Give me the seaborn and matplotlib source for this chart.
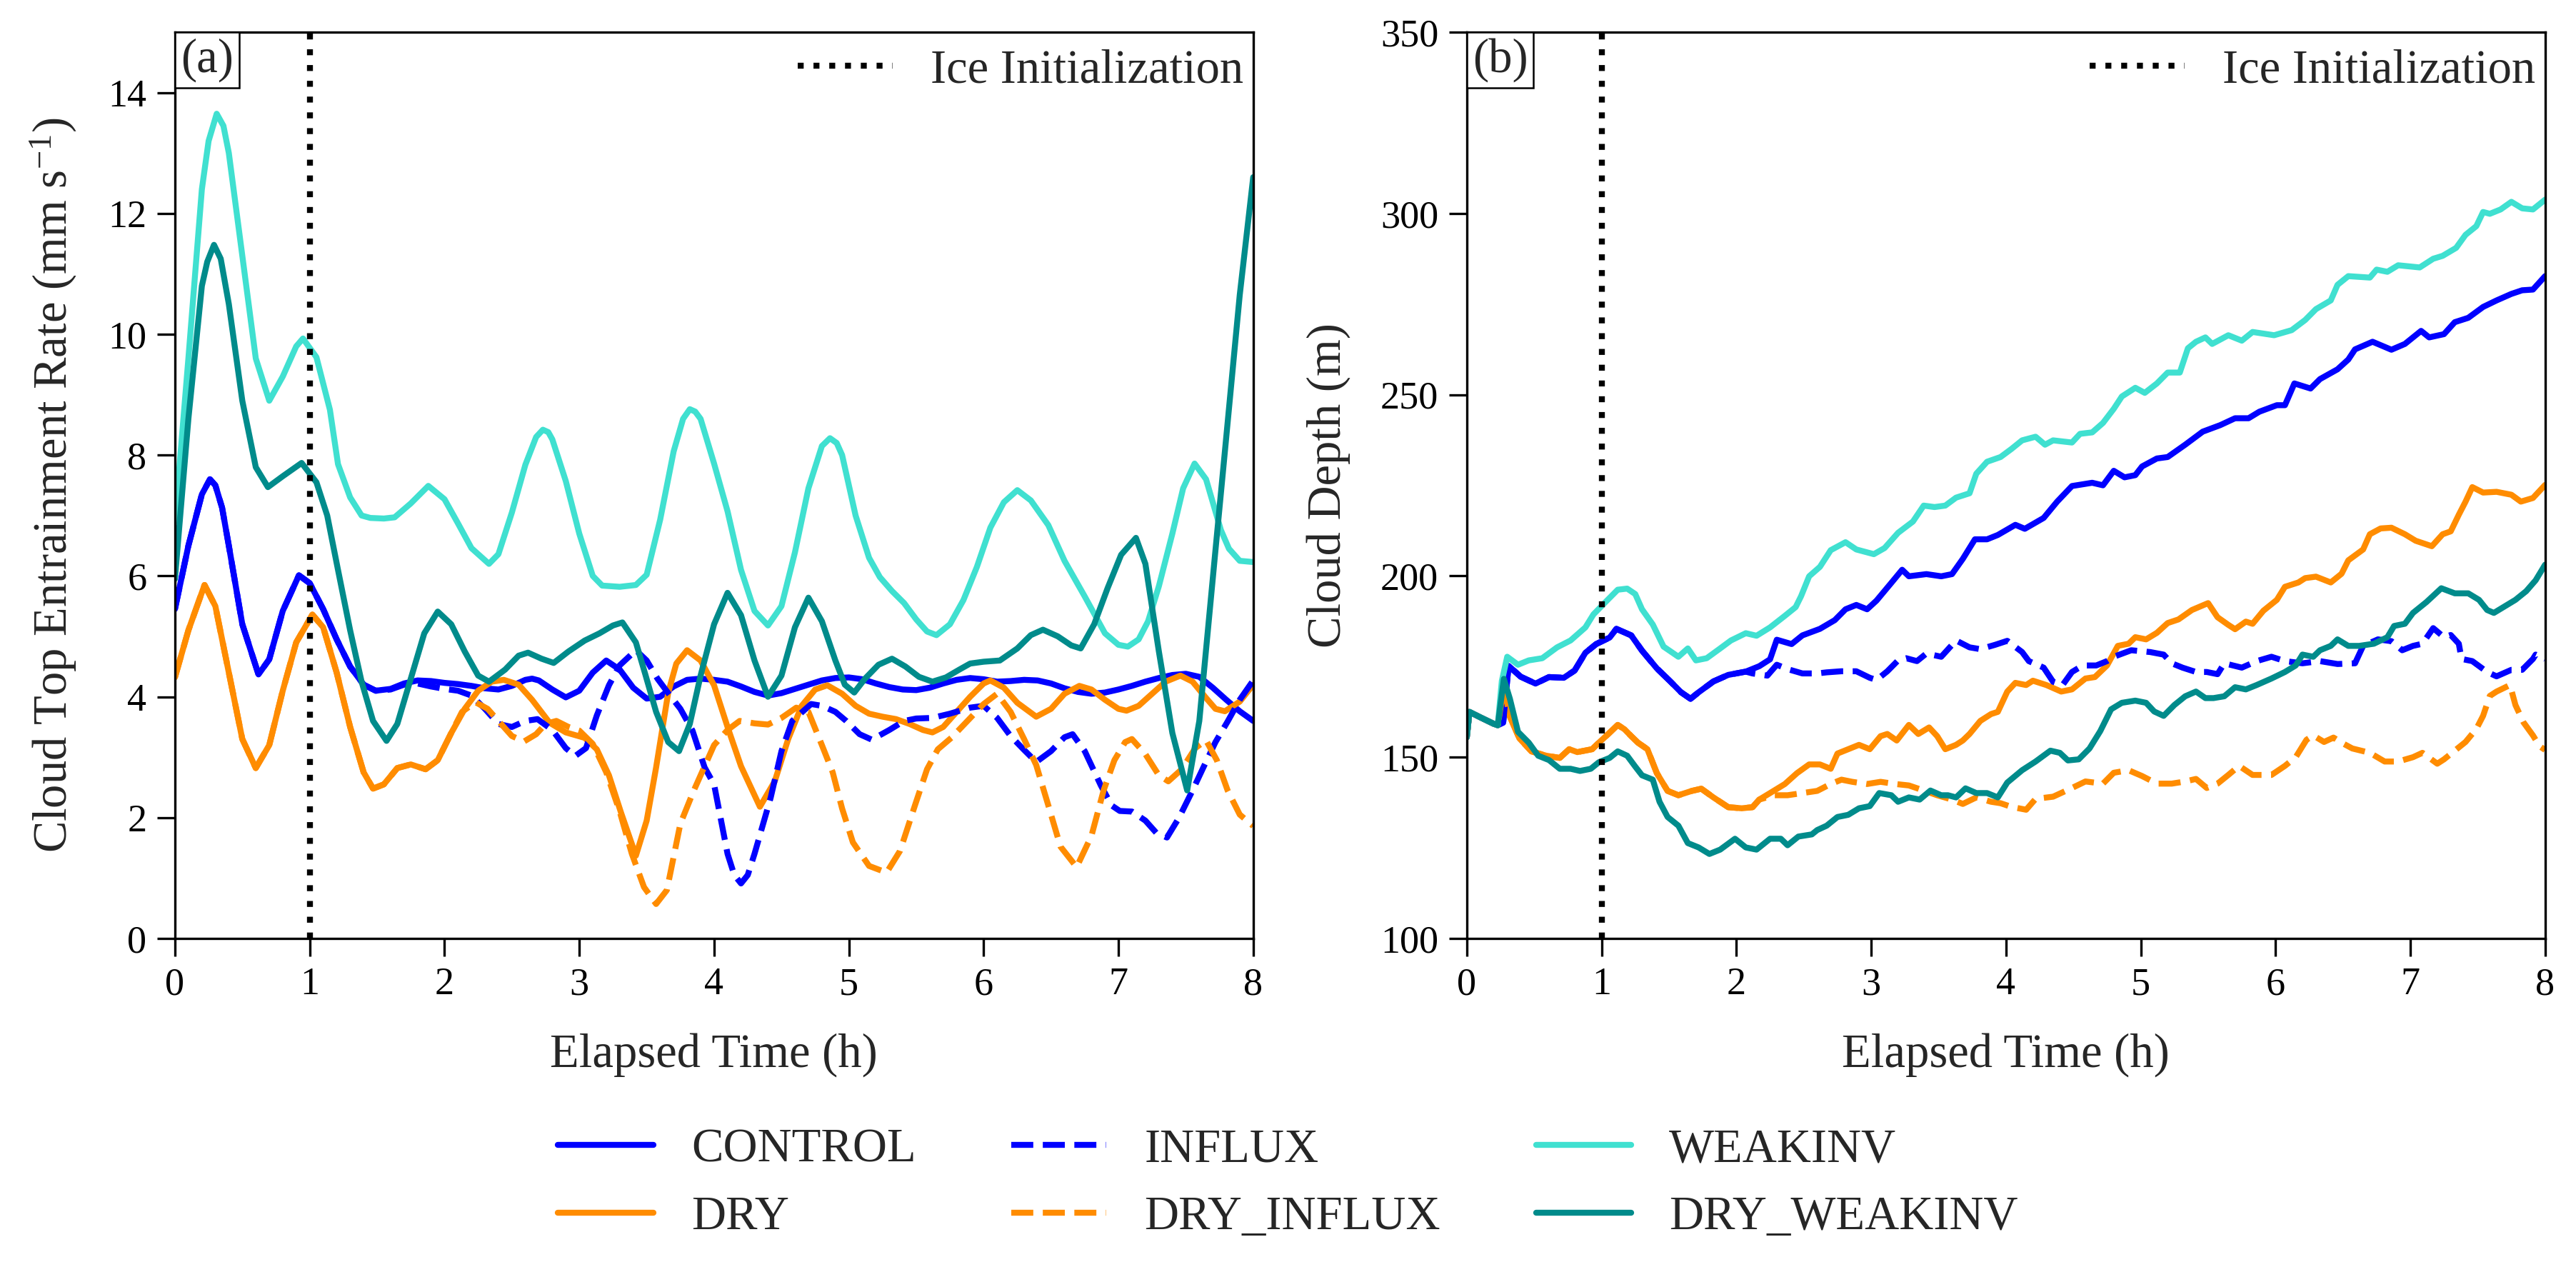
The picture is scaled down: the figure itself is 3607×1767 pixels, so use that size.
import matplotlib
matplotlib.use("Agg")
import matplotlib.pyplot as plt
from matplotlib.lines import Line2D
from matplotlib.offsetbox import AnchoredText
import seaborn as sns
import pandas as pd

# ---------------- data: panel (a) entrainment rate (mm s-1) ----------------
CONTROL_A = [(0, 5.45), (0.1, 6.5), (0.2, 7.35), (0.26, 7.6), (0.3, 7.5), (0.35, 7.13), (0.4, 6.5), (0.5, 5.2),
             (0.62, 4.37), (0.7, 4.62), (0.8, 5.42), (0.92, 6.01), (1.0, 5.88), (1.1, 5.45), (1.2, 4.95), (1.3, 4.5),
             (1.4, 4.2), (1.49, 4.1), (1.6, 4.13), (1.7, 4.22), (1.8, 4.27), (1.9, 4.26), (2.0, 4.23), (2.1, 4.21),
             (2.2, 4.18), (2.3, 4.14), (2.4, 4.12), (2.5, 4.18), (2.6, 4.28), (2.65, 4.3), (2.7, 4.27), (2.8, 4.12),
             (2.9, 3.99), (3.0, 4.1), (3.1, 4.4), (3.2, 4.6), (3.3, 4.45), (3.4, 4.15), (3.5, 3.97), (3.6, 4.0),
             (3.7, 4.17), (3.8, 4.28), (3.9, 4.3), (4.0, 4.28), (4.1, 4.25), (4.2, 4.17), (4.3, 4.08), (4.4, 4.02),
             (4.5, 4.06), (4.6, 4.13), (4.7, 4.2), (4.8, 4.27), (4.9, 4.31), (5.0, 4.32), (5.1, 4.29), (5.2, 4.22),
             (5.3, 4.16), (5.4, 4.12), (5.5, 4.11), (5.6, 4.15), (5.7, 4.22), (5.8, 4.28), (5.9, 4.31), (6.0, 4.29),
             (6.1, 4.25), (6.2, 4.26), (6.3, 4.28), (6.4, 4.27), (6.5, 4.22), (6.6, 4.14), (6.7, 4.08), (6.8, 4.05),
             (6.9, 4.07), (7.0, 4.12), (7.1, 4.18), (7.2, 4.25), (7.3, 4.31), (7.4, 4.36), (7.5, 4.38), (7.6, 4.33),
             (7.7, 4.15), (7.8, 3.95), (7.9, 3.76), (8.0, 3.6)]

INFLUX_A = [(0, 5.45), (0.1, 6.5), (0.2, 7.35), (0.26, 7.6), (0.3, 7.5), (0.35, 7.13), (0.4, 6.5), (0.5, 5.2),
            (0.62, 4.37), (0.7, 4.62), (0.8, 5.42), (0.92, 6.01), (1.0, 5.88), (1.1, 5.45), (1.2, 4.95), (1.3, 4.5),
            (1.4, 4.2), (1.49, 4.1), (1.6, 4.12), (1.7, 4.2), (1.8, 4.22), (1.9, 4.17), (2.0, 4.13), (2.1, 4.1),
            (2.2, 4.02), (2.3, 3.8), (2.4, 3.55), (2.5, 3.5), (2.6, 3.6), (2.69, 3.63), (2.8, 3.45), (2.9, 3.15),
            (2.97, 3.02), (3.05, 3.15), (3.13, 3.69), (3.22, 4.19), (3.3, 4.52), (3.42, 4.77), (3.5, 4.6),
            (3.58, 4.3), (3.66, 4.06), (3.75, 3.8), (3.84, 3.44), (3.93, 2.83), (4.0, 2.55), (4.1, 1.4),
            (4.15, 1.05), (4.2, 0.91), (4.25, 1.05), (4.3, 1.4), (4.42, 2.33), (4.5, 3.1), (4.58, 3.6),
            (4.72, 3.88), (4.8, 3.85), (4.9, 3.75), (4.98, 3.6), (5.08, 3.38), (5.17, 3.29), (5.3, 3.45),
            (5.41, 3.6), (5.5, 3.64), (5.62, 3.65), (5.75, 3.72), (5.9, 3.82), (6.0, 3.85), (6.1, 3.65),
            (6.2, 3.35), (6.3, 3.12), (6.39, 2.92), (6.5, 3.1), (6.6, 3.33), (6.66, 3.38), (6.75, 3.1),
            (6.87, 2.53), (6.95, 2.2), (7.01, 2.11), (7.1, 2.1), (7.2, 1.95), (7.28, 1.75), (7.36, 1.67),
            (7.45, 2.0), (7.55, 2.45), (7.63, 2.83), (7.72, 3.25), (7.81, 3.59), (7.9, 3.95), (8.0, 4.27)]

DRY_A = [(0, 4.32), (0.1, 5.1), (0.22, 5.85), (0.3, 5.5), (0.4, 4.4), (0.5, 3.3), (0.6, 2.82), (0.7, 3.2),
         (0.8, 4.1), (0.9, 4.9), (1.02, 5.36), (1.1, 5.15), (1.2, 4.4), (1.3, 3.5), (1.4, 2.75), (1.47, 2.48),
         (1.55, 2.55), (1.65, 2.82), (1.75, 2.88), (1.86, 2.8), (1.95, 2.95), (2.05, 3.4), (2.15, 3.8), (2.25, 4.1),
         (2.35, 4.25), (2.44, 4.28), (2.55, 4.2), (2.65, 3.95), (2.78, 3.57), (2.9, 3.41), (3.04, 3.32),
         (3.13, 3.13), (3.22, 2.7), (3.31, 2.08), (3.42, 1.37), (3.5, 1.95), (3.57, 2.83), (3.66, 4.07),
         (3.72, 4.55), (3.8, 4.77), (3.9, 4.6), (4.0, 4.19), (4.1, 3.5), (4.2, 2.85), (4.34, 2.18), (4.45, 2.6),
         (4.55, 3.3), (4.65, 3.85), (4.75, 4.12), (4.84, 4.19), (4.95, 4.05), (5.05, 3.85), (5.15, 3.72),
         (5.25, 3.67), (5.35, 3.63), (5.45, 3.55), (5.55, 3.45), (5.62, 3.41), (5.7, 3.5), (5.8, 3.75), (5.9, 4.0),
         (6.0, 4.22), (6.05, 4.27), (6.15, 4.15), (6.25, 3.9), (6.39, 3.67), (6.5, 3.8), (6.6, 4.05), (6.71, 4.18),
         (6.8, 4.12), (6.9, 3.95), (7.0, 3.8), (7.06, 3.77), (7.15, 3.85), (7.25, 4.05), (7.35, 4.25), (7.46, 4.35),
         (7.55, 4.25), (7.65, 3.98), (7.72, 3.8), (7.79, 3.76), (7.9, 3.92), (8.0, 4.2)]

DRY_INFLUX_A = [(0, 4.32), (0.1, 5.1), (0.22, 5.85), (0.3, 5.5), (0.4, 4.4), (0.5, 3.3), (0.6, 2.82), (0.7, 3.2),
                (0.8, 4.1), (0.9, 4.9), (1.02, 5.36), (1.1, 5.15), (1.2, 4.4), (1.3, 3.5), (1.4, 2.75), (1.47, 2.48),
                (1.55, 2.55), (1.65, 2.82), (1.75, 2.88), (1.86, 2.8), (1.95, 2.95), (2.05, 3.4), (2.13, 3.75),
                (2.23, 3.91), (2.32, 3.8), (2.42, 3.55), (2.5, 3.35), (2.59, 3.26), (2.68, 3.38), (2.75, 3.55),
                (2.83, 3.6), (2.92, 3.5), (3.0, 3.44), (3.1, 3.22), (3.2, 2.75), (3.3, 2.1), (3.39, 1.4),
                (3.48, 0.85), (3.57, 0.57), (3.65, 0.8), (3.75, 1.9), (3.85, 2.45), (3.93, 2.85), (4.0, 3.2),
                (4.1, 3.45), (4.19, 3.6), (4.3, 3.56), (4.4, 3.54), (4.5, 3.65), (4.61, 3.82), (4.7, 3.75),
                (4.8, 3.2), (4.88, 2.75), (4.95, 2.15), (5.03, 1.59), (5.15, 1.2), (5.28, 1.09), (5.38, 1.45),
                (5.49, 2.2), (5.58, 2.8), (5.66, 3.13), (5.76, 3.32), (5.88, 3.6), (6.0, 3.88), (6.1, 4.05),
                (6.2, 3.75), (6.3, 3.3), (6.39, 2.87), (6.48, 2.2), (6.57, 1.52), (6.69, 1.18), (6.8, 1.7),
                (6.89, 2.45), (6.97, 2.95), (7.05, 3.25), (7.1, 3.3), (7.2, 3.05), (7.3, 2.7), (7.37, 2.6),
                (7.47, 2.8), (7.57, 3.15), (7.65, 3.28), (7.73, 2.95), (7.81, 2.45), (7.9, 2.05), (8.0, 1.86)]

WEAKINV_A = [(0, 6.9), (0.1, 9.6), (0.2, 12.4), (0.25, 13.2), (0.31, 13.65), (0.36, 13.45), (0.4, 13.0),
             (0.5, 11.3), (0.6, 9.6), (0.7, 8.9), (0.8, 9.3), (0.9, 9.8), (0.95, 9.93), (1.05, 9.62), (1.15, 8.75),
             (1.21, 7.85), (1.3, 7.3), (1.385, 7.0), (1.45, 6.96), (1.55, 6.95), (1.63, 6.97), (1.75, 7.2),
             (1.88, 7.49), (2.0, 7.27), (2.1, 6.87), (2.2, 6.46), (2.33, 6.2), (2.4, 6.36), (2.5, 7.05), (2.6, 7.84),
             (2.68, 8.3), (2.73, 8.42), (2.77, 8.38), (2.8, 8.26), (2.9, 7.57), (3.0, 6.7), (3.1, 6.0), (3.17, 5.84),
             (3.3, 5.82), (3.42, 5.85), (3.5, 6.02), (3.6, 6.93), (3.7, 8.06), (3.77, 8.6), (3.82, 8.76),
             (3.86, 8.72), (3.9, 8.6), (4.0, 7.86), (4.1, 7.07), (4.2, 6.1), (4.3, 5.42), (4.4, 5.18), (4.5, 5.5),
             (4.6, 6.39), (4.7, 7.45), (4.8, 8.15), (4.86, 8.28), (4.91, 8.2), (4.95, 8.0), (5.05, 7.0),
             (5.15, 6.3), (5.23, 5.98), (5.32, 5.75), (5.41, 5.55), (5.5, 5.28), (5.58, 5.08), (5.65, 5.02),
             (5.75, 5.2), (5.85, 5.6), (5.95, 6.15), (6.05, 6.8), (6.15, 7.22), (6.25, 7.42), (6.35, 7.25),
             (6.48, 6.84), (6.6, 6.25), (6.75, 5.66), (6.9, 5.05), (7.0, 4.86), (7.07, 4.83), (7.15, 4.95),
             (7.22, 5.25), (7.3, 5.83), (7.4, 6.7), (7.48, 7.45), (7.565, 7.86), (7.65, 7.6), (7.76, 6.76),
             (7.82, 6.45), (7.9, 6.25), (8.0, 6.23)]

DRY_WEAKINV_A = [(0, 5.95), (0.1, 8.6), (0.2, 10.8), (0.24, 11.2), (0.29, 11.48), (0.34, 11.25), (0.4, 10.5),
                 (0.5, 8.9), (0.6, 7.8), (0.69, 7.47), (0.8, 7.65), (0.94, 7.87), (1.05, 7.55), (1.13, 7.0),
                 (1.21, 6.1), (1.3, 5.1), (1.385, 4.25), (1.47, 3.6), (1.57, 3.27), (1.65, 3.55), (1.75, 4.3),
                 (1.85, 5.05), (1.95, 5.41), (2.05, 5.2), (2.15, 4.75), (2.25, 4.35), (2.33, 4.25), (2.45, 4.45),
                 (2.55, 4.68), (2.62, 4.73), (2.72, 4.63), (2.81, 4.56), (2.92, 4.75), (3.04, 4.93), (3.15, 5.05),
                 (3.25, 5.18), (3.32, 5.23), (3.42, 4.9), (3.49, 4.37), (3.57, 3.75), (3.66, 3.25), (3.74, 3.1),
                 (3.82, 3.55), (3.9, 4.35), (4.0, 5.2), (4.1, 5.72), (4.2, 5.35), (4.3, 4.6), (4.4, 4.0),
                 (4.5, 4.35), (4.6, 5.15), (4.7, 5.64), (4.8, 5.25), (4.9, 4.6), (4.97, 4.2), (5.04, 4.07),
                 (5.12, 4.3), (5.22, 4.53), (5.32, 4.63), (5.42, 4.5), (5.52, 4.33), (5.62, 4.25), (5.72, 4.32),
                 (5.82, 4.45), (5.9, 4.55), (6.0, 4.58), (6.12, 4.6), (6.25, 4.8), (6.35, 5.02), (6.44, 5.11),
                 (6.55, 5.0), (6.65, 4.85), (6.72, 4.8), (6.82, 5.2), (6.92, 5.8), (7.02, 6.35), (7.13, 6.63),
                 (7.2, 6.2), (7.3, 4.75), (7.4, 3.4), (7.51, 2.45), (7.6, 3.6), (7.72, 6.43), (7.8, 8.3),
                 (7.9, 10.65), (8.0, 12.6)]

# ---------------- data: panel (b) cloud depth (m) ----------------
START_B = [(0, 155.5), (0.02, 162.5), (0.1, 161.0), (0.2, 159.2), (0.23, 158.8)]

CONTROL_B = START_B + [
    (0.27, 159.5), (0.31, 175.2), (0.4, 172.2), (0.51, 170.3), (0.61, 172.1), (0.72, 171.9), (0.8, 173.9),
    (0.88, 178.8), (0.96, 181.2), (1.06, 183.0), (1.11, 185.4), (1.22, 183.6), (1.3, 179.4), (1.41, 174.5),
    (1.51, 170.9), (1.59, 167.9), (1.66, 166.1), (1.72, 167.9), (1.83, 170.9), (1.94, 172.7), (2.07, 173.6),
    (2.17, 175.1), (2.25, 177.0), (2.3, 182.4), (2.41, 181.2), (2.49, 183.6), (2.62, 185.4), (2.73, 187.8),
    (2.81, 190.8), (2.89, 192.0), (2.97, 190.8), (3.04, 193.2), (3.15, 198.1), (3.23, 201.7), (3.28, 199.9),
    (3.41, 200.5), (3.52, 199.9), (3.6, 200.5), (3.68, 204.7), (3.77, 210.1), (3.86, 210.1), (3.94, 211.3),
    (4.07, 214.1), (4.14, 213.0), (4.28, 216.0), (4.38, 220.5), (4.49, 224.8), (4.64, 225.7), (4.72, 225.0),
    (4.8, 229.0), (4.88, 227.2), (4.96, 227.8), (5.01, 230.2), (5.12, 232.4), (5.2, 232.8), (5.33, 236.2),
    (5.46, 239.8), (5.59, 241.6), (5.7, 243.5), (5.8, 243.5), (5.88, 245.3), (6.01, 247.1), (6.07, 247.1),
    (6.14, 253.1), (6.26, 251.7), (6.33, 254.3), (6.46, 257.0), (6.54, 259.7), (6.59, 262.5), (6.72, 264.6),
    (6.86, 262.4), (6.96, 264.0), (7.08, 267.6), (7.14, 265.8), (7.25, 266.7), (7.33, 270.0), (7.43, 271.2),
    (7.54, 274.2), (7.64, 276.0), (7.75, 277.8), (7.83, 278.8), (7.91, 279.0), (8.0, 282.7)]

INFLUX_B = START_B + [
    (0.27, 159.5), (0.31, 175.2), (0.4, 172.2), (0.51, 170.3), (0.61, 172.1), (0.72, 171.9), (0.8, 173.9),
    (0.88, 178.8), (0.96, 181.2), (1.06, 183.0), (1.11, 185.4), (1.22, 183.6), (1.3, 179.4), (1.41, 174.5),
    (1.51, 170.9), (1.59, 167.9), (1.66, 166.1), (1.72, 167.9), (1.83, 170.9), (1.94, 172.7), (2.07, 173.6),
    (2.12, 173.1), (2.23, 172.5), (2.3, 175.5), (2.38, 174.3), (2.49, 173.1), (2.6, 173.1), (2.67, 173.4),
    (2.78, 173.7), (2.89, 173.7), (2.99, 171.9), (3.04, 171.3), (3.12, 173.7), (3.2, 176.7), (3.26, 177.3),
    (3.34, 176.5), (3.41, 178.6), (3.52, 177.7), (3.63, 182.2), (3.73, 180.3), (3.81, 179.8), (3.92, 181.0),
    (4.01, 182.1), (4.12, 179.0), (4.17, 176.5), (4.28, 174.7), (4.35, 170.8), (4.42, 169.9), (4.49, 173.5),
    (4.57, 175.3), (4.67, 175.3), (4.75, 176.5), (4.8, 177.7), (4.93, 179.5), (5.07, 179.0), (5.17, 178.3),
    (5.23, 175.9), (5.31, 174.7), (5.41, 173.5), (5.49, 173.5), (5.57, 172.9), (5.62, 175.9), (5.75, 174.7),
    (5.86, 176.5), (5.97, 177.7), (6.07, 176.5), (6.2, 175.9), (6.33, 176.5), (6.46, 175.7), (6.59, 175.9),
    (6.65, 180.7), (6.76, 182.5), (6.86, 182.0), (6.94, 179.5), (7.02, 180.7), (7.09, 181.3), (7.17, 185.6),
    (7.25, 183.1), (7.3, 183.7), (7.36, 181.3), (7.38, 177.1), (7.46, 176.5), (7.57, 173.5), (7.64, 172.3),
    (7.75, 174.1), (7.83, 174.1), (7.91, 177.1), (7.93, 178.3), (8.0, 177.1)]

WEAKINV_B = START_B + [
    (0.26, 171.0), (0.3, 177.7), (0.38, 175.5), (0.46, 176.7), (0.56, 177.3), (0.67, 180.3), (0.77, 182.2),
    (0.88, 185.8), (0.94, 189.4), (1.04, 193.2), (1.12, 196.2), (1.19, 196.5), (1.25, 195.0), (1.3, 190.8),
    (1.38, 186.6), (1.46, 180.5), (1.57, 177.7), (1.64, 180.0), (1.7, 176.7), (1.78, 177.3), (1.88, 180.0),
    (1.96, 182.2), (2.07, 184.2), (2.15, 183.5), (2.25, 185.8), (2.36, 189.0), (2.44, 191.4), (2.48, 194.4),
    (2.54, 199.9), (2.62, 202.5), (2.7, 207.1), (2.81, 209.3), (2.89, 207.3), (3.02, 206.0), (3.1, 207.7),
    (3.2, 211.9), (3.31, 215.0), (3.39, 219.4), (3.47, 219.0), (3.55, 219.4), (3.63, 221.6), (3.73, 222.8),
    (3.78, 228.2), (3.86, 231.5), (3.96, 232.8), (4.04, 235.0), (4.12, 237.4), (4.22, 238.4), (4.29, 236.2),
    (4.35, 237.4), (4.49, 236.8), (4.55, 239.2), (4.64, 239.6), (4.72, 242.2), (4.8, 246.1), (4.86, 249.5),
    (4.96, 251.9), (5.03, 250.5), (5.12, 253.1), (5.2, 256.1), (5.29, 256.1), (5.35, 262.8), (5.41, 264.6),
    (5.48, 265.8), (5.53, 264.0), (5.65, 266.4), (5.75, 264.9), (5.83, 267.3), (5.99, 266.4), (6.12, 267.8),
    (6.22, 270.6), (6.3, 273.6), (6.41, 276.0), (6.46, 280.3), (6.54, 282.7), (6.7, 282.3), (6.75, 284.5),
    (6.83, 283.9), (6.91, 285.7), (7.07, 285.1), (7.17, 287.5), (7.24, 288.3), (7.34, 290.5), (7.41, 294.1),
    (7.49, 296.5), (7.54, 300.4), (7.59, 299.9), (7.67, 301.1), (7.75, 303.2), (7.83, 301.4), (7.91, 301.1),
    (8.0, 303.8)]

DRY_B = START_B + [
    (0.275, 169.5), (0.32, 161.2), (0.39, 155.2), (0.48, 151.6), (0.59, 150.4), (0.69, 149.8), (0.76, 152.2),
    (0.82, 151.4), (0.93, 152.2), (0.98, 154.0), (1.05, 156.4), (1.12, 158.9), (1.17, 157.7), (1.22, 155.8),
    (1.27, 154.0), (1.34, 152.2), (1.41, 145.6), (1.49, 140.7), (1.57, 139.5), (1.67, 140.7), (1.74, 141.3),
    (1.83, 138.9), (1.94, 136.2), (2.04, 135.9), (2.12, 136.2), (2.17, 138.3), (2.25, 140.1), (2.36, 142.6),
    (2.45, 145.6), (2.54, 148.0), (2.62, 148.0), (2.7, 146.8), (2.75, 151.0), (2.83, 152.2), (2.91, 153.4),
    (2.99, 152.2), (3.07, 155.8), (3.12, 156.4), (3.19, 154.6), (3.28, 158.9), (3.35, 156.4), (3.43, 158.2),
    (3.49, 155.8), (3.55, 152.2), (3.63, 153.4), (3.68, 154.6), (3.73, 156.4), (3.81, 160.0), (3.89, 161.9),
    (3.94, 162.5), (4.01, 168.1), (4.07, 170.5), (4.15, 169.9), (4.2, 171.1), (4.3, 169.9), (4.41, 168.1),
    (4.49, 168.7), (4.59, 171.7), (4.66, 172.1), (4.75, 175.3), (4.83, 180.7), (4.91, 181.3), (4.96, 183.1),
    (5.04, 182.5), (5.12, 184.3), (5.2, 187.0), (5.28, 188.0), (5.38, 190.6), (5.5, 192.5), (5.57, 188.6),
    (5.65, 186.5), (5.7, 185.3), (5.78, 187.4), (5.83, 186.8), (5.91, 190.4), (6.01, 193.4), (6.07, 197.0),
    (6.17, 198.2), (6.22, 199.4), (6.3, 199.8), (6.41, 198.2), (6.49, 200.6), (6.54, 204.3), (6.65, 207.3),
    (6.7, 211.5), (6.78, 213.1), (6.86, 213.3), (6.96, 211.5), (7.04, 209.7), (7.16, 208.2), (7.24, 211.5),
    (7.3, 212.3), (7.36, 216.9), (7.41, 220.5), (7.46, 224.5), (7.54, 223.0), (7.64, 223.2), (7.75, 222.4),
    (7.82, 220.5), (7.91, 221.5), (8.0, 225.1)]

DRY_INFLUX_B = START_B + [
    (0.275, 169.5), (0.32, 161.2), (0.39, 155.2), (0.48, 151.6), (0.59, 150.4), (0.69, 149.8), (0.76, 152.2),
    (0.82, 151.4), (0.93, 152.2), (0.98, 154.0), (1.05, 156.4), (1.12, 158.9), (1.17, 157.7), (1.22, 155.8),
    (1.27, 154.0), (1.34, 152.2), (1.41, 145.6), (1.49, 140.7), (1.57, 139.5), (1.67, 140.7), (1.74, 141.3),
    (1.83, 138.9), (1.94, 136.2), (2.04, 135.9), (2.12, 136.2), (2.17, 138.3),
    (2.28, 139.5), (2.38, 139.5), (2.49, 140.1), (2.6, 140.7), (2.7, 142.6), (2.78, 143.8), (2.86, 143.2),
    (2.97, 142.6), (3.07, 143.2), (3.18, 142.6), (3.28, 142.2), (3.39, 140.8), (3.49, 139.5), (3.6, 138.3),
    (3.68, 137.1), (3.78, 138.9), (3.89, 137.7), (3.96, 137.3), (4.04, 136.3), (4.15, 135.5), (4.22, 138.5),
    (4.35, 139.1), (4.49, 141.5), (4.59, 143.3), (4.72, 142.7), (4.8, 145.7), (4.91, 146.4), (5.01, 144.8),
    (5.12, 142.7), (5.23, 142.7), (5.33, 143.3), (5.41, 144.0), (5.49, 141.5), (5.57, 142.7), (5.65, 145.1),
    (5.73, 147.6), (5.83, 145.1), (5.97, 145.1), (6.07, 147.6), (6.15, 150.0), (6.23, 154.8), (6.28, 156.0),
    (6.36, 154.2), (6.43, 155.4), (6.51, 153.6), (6.57, 152.4), (6.7, 151.2), (6.81, 148.8), (6.91, 148.8),
    (7.02, 150.0), (7.09, 151.2), (7.2, 148.2), (7.25, 149.4), (7.33, 151.8), (7.41, 154.2), (7.49, 157.8),
    (7.54, 161.4), (7.59, 166.9), (7.64, 168.1), (7.74, 169.9), (7.78, 164.4), (7.84, 159.6), (7.91, 156.0),
    (7.96, 153.0), (8.0, 152.0)]

DRY_WEAKINV_B = START_B + [
    (0.275, 171.6), (0.32, 166.1), (0.38, 157.0), (0.46, 154.0), (0.53, 150.4), (0.61, 149.2), (0.69, 146.8),
    (0.77, 146.8), (0.84, 146.2), (0.92, 146.8), (0.98, 148.6), (1.06, 149.8), (1.12, 151.6), (1.19, 150.4),
    (1.25, 147.4), (1.3, 145.0), (1.38, 143.8), (1.43, 137.7), (1.49, 133.5), (1.57, 131.1), (1.64, 126.3),
    (1.72, 125.1), (1.8, 123.3), (1.88, 124.5), (1.99, 127.5), (2.07, 125.1), (2.15, 124.5), (2.25, 127.5),
    (2.33, 127.5), (2.38, 125.7), (2.46, 128.1), (2.56, 128.7), (2.6, 129.9), (2.67, 131.1), (2.75, 133.5),
    (2.83, 134.1), (2.91, 135.9), (2.99, 136.5), (3.06, 140.1), (3.15, 139.5), (3.2, 137.7), (3.28, 138.9),
    (3.36, 138.3), (3.44, 140.8), (3.52, 139.5), (3.57, 139.5), (3.63, 138.9), (3.7, 141.4), (3.78, 140.1),
    (3.86, 140.1), (3.94, 138.9), (4.01, 143.0), (4.12, 146.4), (4.22, 148.8), (4.33, 151.8), (4.4, 151.2),
    (4.46, 149.1), (4.54, 149.4), (4.62, 152.4), (4.7, 157.2), (4.78, 163.2), (4.86, 165.0), (4.96, 165.6),
    (5.04, 165.0), (5.1, 162.6), (5.17, 161.4), (5.25, 164.4), (5.33, 166.8), (5.41, 168.1), (5.48, 166.3),
    (5.54, 166.3), (5.62, 166.8), (5.7, 169.3), (5.78, 168.7), (5.86, 169.9), (5.97, 171.7), (6.07, 173.5),
    (6.15, 175.3), (6.2, 178.3), (6.28, 177.7), (6.33, 179.5), (6.41, 180.7), (6.46, 182.5), (6.54, 180.7),
    (6.62, 180.7), (6.73, 181.3), (6.83, 183.1), (6.88, 186.2), (6.96, 186.8), (7.02, 189.8), (7.12, 192.8),
    (7.23, 196.6), (7.33, 195.2), (7.43, 195.2), (7.51, 193.4), (7.57, 190.6), (7.62, 189.8), (7.7, 191.6),
    (7.78, 193.4), (7.86, 195.8), (7.93, 198.8), (8.0, 203.1)]

RUNS = ["CONTROL", "DRY", "INFLUX", "DRY_INFLUX", "WEAKINV", "DRY_WEAKINV"]
PANEL_A = {"CONTROL": CONTROL_A, "DRY": DRY_A, "INFLUX": INFLUX_A, "DRY_INFLUX": DRY_INFLUX_A,
           "WEAKINV": WEAKINV_A, "DRY_WEAKINV": DRY_WEAKINV_A}
PANEL_B = {"CONTROL": CONTROL_B, "DRY": DRY_B, "INFLUX": INFLUX_B, "DRY_INFLUX": DRY_INFLUX_B,
           "WEAKINV": WEAKINV_B, "DRY_WEAKINV": DRY_WEAKINV_B}
ICE_INIT_TIME = 1.0
X_TICKS = [0, 1, 2, 3, 4, 5, 6, 7, 8]
Y_TICKS_A = [0, 2, 4, 6, 8, 10, 12, 14]
Y_TICKS_B = [100, 150, 200, 250, 300, 350]

# ---------------- style ----------------
COLORS = {"CONTROL": "#0000FF", "INFLUX": "#0000FF", "DRY": "#FF8C00", "DRY_INFLUX": "#FF8C00",
          "WEAKINV": "#40E0D0", "DRY_WEAKINV": "#008B8B"}
DASHES = {"CONTROL": "", "DRY": "", "INFLUX": (3.7, 1.6), "DRY_INFLUX": (3.7, 1.6),
          "WEAKINV": "", "DRY_WEAKINV": ""}

sns.set_style("ticks")
plt.rcParams["font.family"] = ["Liberation Serif", "DejaVu Serif"]
plt.rcParams["mathtext.fontset"] = "custom"
plt.rcParams["mathtext.rm"] = "Liberation Serif"
plt.rcParams["mathtext.it"] = "Liberation Serif:italic"
plt.rcParams["axes.edgecolor"] = "black"
plt.rcParams["axes.linewidth"] = 0.8


def to_frame(panel):
    rows = []
    for run in RUNS:
        for t, v in panel[run]:
            rows.append({"t": t, "v": v, "run": run})
    return pd.DataFrame(rows)


fig = plt.figure(figsize=(3607 / 300, 1767 / 300), dpi=300)
axA = fig.add_axes([0.0679, 0.2564, 0.4186, 0.7181])
axB = fig.add_axes([0.5694, 0.2564, 0.4186, 0.7181])

for ax, panel, ylim, yticks, ylabel, tag in [
        (axA, PANEL_A, (0, 15), Y_TICKS_A, "Cloud Top Entrainment Rate (mm s$^{-1}$)", "(a)"),
        (axB, PANEL_B, (100, 350), Y_TICKS_B, "Cloud Depth (m)", "(b)")]:
    df = to_frame(panel)
    sns.lineplot(data=df, x="t", y="v", hue="run", style="run", hue_order=RUNS, style_order=RUNS,
                 palette=COLORS, dashes=DASHES, estimator=None, linewidth=2, legend=False, ax=ax)
    ax.axvline(ICE_INIT_TIME, color="black", linestyle=":", linewidth=2)
    ax.set_xlim(0, 8)
    ax.set_ylim(*ylim)
    ax.set_xticks(X_TICKS)
    ax.set_yticks(yticks)
    ax.set_xlabel("Elapsed Time (h)", fontsize=16, labelpad=10)
    ax.set_ylabel(ylabel, fontsize=16, labelpad=10)
    ax.tick_params(axis="both", labelsize=13, length=6, width=0.8, direction="out", colors="black")
    for sp in ax.spines.values():
        sp.set_visible(True)
        sp.set_linewidth(0.8)
        sp.set_color("black")
    ice = Line2D([0], [0], color="black", linestyle=":", linewidth=2)
    ax.legend([ice], ["Ice Initialization"], loc="upper right", bbox_to_anchor=(1.0, 0.992),
              frameon=False, fontsize=16, borderaxespad=0.0, borderpad=0.2)
    at = AnchoredText(tag, loc="upper left", prop=dict(size=16), pad=0.12, borderpad=0.0, frameon=True)
    at.patch.set_linewidth(0.6)
    at.patch.set_edgecolor("black")
    ax.add_artist(at)

handles = []
for run in RUNS:
    ls = "--" if DASHES[run] else "-"
    handles.append(Line2D([0], [0], color=COLORS[run], linestyle=ls, linewidth=2))
fig.legend(handles, RUNS, loc="center", bbox_to_anchor=(0.5, 0.062), ncol=3, frameon=False, fontsize=16)

fig.savefig("out.png", dpi=300)
